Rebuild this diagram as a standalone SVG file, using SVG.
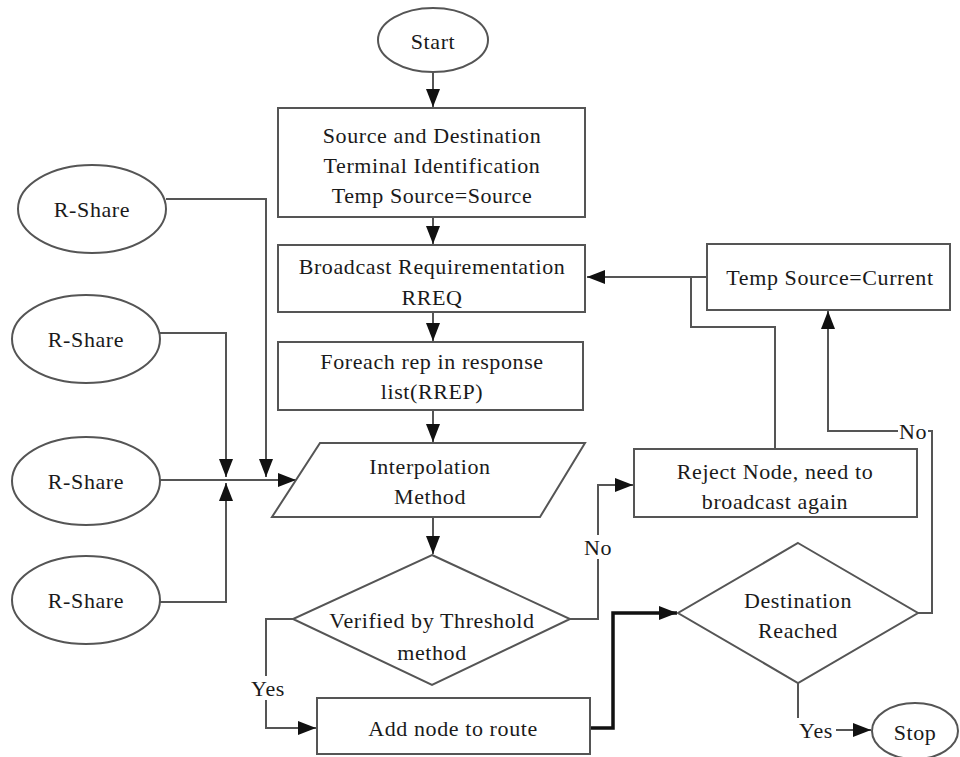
<svg xmlns="http://www.w3.org/2000/svg" width="960" height="757" viewBox="0 0 960 757">
  <defs>
    <marker id="arrow" markerUnits="userSpaceOnUse" markerWidth="18" markerHeight="14" refX="18" refY="7" orient="auto">
      <path d="M0,0 L18,7 L0,14 z" fill="#111"/>
    </marker>
    <style>
      .shape { fill: #fff; stroke: #555; stroke-width: 2; }
      .conn { fill: none; stroke: #555; stroke-width: 2; }
      .bold { fill: none; stroke: #111; stroke-width: 3.5; }
      text { font-family: "Liberation Serif", "Times New Roman", serif; font-size: 22px; fill: #1a1a1a; text-anchor: middle; dominant-baseline: central; letter-spacing: 0.6px; }
      .lblbg { fill: #fff; stroke: none; }
    </style>
  </defs>
  <rect width="960" height="757" fill="#fff"/>

  <!-- connectors -->
  <g id="connectors">
    <path class="conn" d="M433,72 V107" marker-end="url(#arrow)"/>
    <path class="conn" d="M433,217 V244" marker-end="url(#arrow)"/>
    <path class="conn" d="M433,312 V341" marker-end="url(#arrow)"/>
    <path class="conn" d="M433,410 V442" marker-end="url(#arrow)"/>
    <path class="conn" d="M433,517 V554" marker-end="url(#arrow)"/>
    <!-- R-Share inputs -->
    <path class="conn" d="M166,199 H266 V477" marker-end="url(#arrow)"/>
    <path class="conn" d="M160,333 H226 V477" marker-end="url(#arrow)"/>
    <path class="conn" d="M160,480 H296" marker-end="url(#arrow)"/>
    <path class="conn" d="M160,602 H226 V483" marker-end="url(#arrow)"/>
    <!-- Yes branch of threshold check -->
    <path class="conn" d="M293,619 H266 V728 H316" marker-end="url(#arrow)"/>
    <!-- No branch of threshold check -->
    <path class="conn" d="M570,619 H598 V485 H633" marker-end="url(#arrow)"/>
    <!-- route to destination check -->
    <path class="bold" d="M590,728 H613 V613 H677" marker-end="url(#arrow)"/>
    <!-- reject loops back to broadcast -->
    <path class="conn" d="M775,449 V327 H691 V277"/>
    <path class="conn" d="M707,277 H587" marker-end="url(#arrow)"/>
    <!-- not reached: update temp source -->
    <path class="conn" d="M918,613 H932 V431 H828 V311" marker-end="url(#arrow)"/>
    <!-- reached: stop -->
    <path class="conn" d="M798,683 V730 H871" marker-end="url(#arrow)"/>

    <rect class="lblbg" x="249" y="676" width="38" height="24"/>
    <text x="268" y="688">Yes</text>
    <rect class="lblbg" x="584" y="535" width="28" height="24"/>
    <text x="598" y="547">No</text>
    <rect class="lblbg" x="898" y="419" width="30" height="24"/>
    <text x="913" y="431">No</text>
    <rect class="lblbg" x="796" y="718" width="40" height="24"/>
    <text x="816" y="730">Yes</text>
  </g>

  <g id="start">
    <ellipse class="shape" cx="433" cy="40" rx="55" ry="32"/>
    <text x="433" y="41">Start</text>
  </g>

  <g id="identify">
    <rect class="shape" x="278" y="108" width="307" height="109"/>
    <text x="432" y="135">Source and Destination</text>
    <text x="432" y="165">Terminal Identification</text>
    <text x="432" y="195">Temp Source=Source</text>
  </g>

  <g id="broadcast">
    <rect class="shape" x="278" y="245" width="307" height="67"/>
    <text x="432" y="266">Broadcast Requirementation</text>
    <text x="432" y="297">RREQ</text>
  </g>

  <g id="foreach">
    <rect class="shape" x="278" y="342" width="305" height="68"/>
    <text x="432" y="361">Foreach rep in response</text>
    <text x="432" y="391">list(RREP)</text>
  </g>

  <g id="interpolation">
    <polygon class="shape" points="320,443 585,443 540,517 272,517"/>
    <text x="430" y="466">Interpolation</text>
    <text x="430" y="496">Method</text>
  </g>

  <g id="verify">
    <polygon class="shape" points="432,555 570,619 432,685 293,619"/>
    <text x="432" y="620">Verified by Threshold</text>
    <text x="432" y="652">method</text>
  </g>

  <g id="add-node">
    <rect class="shape" x="317" y="698" width="273" height="56"/>
    <text x="453" y="728">Add node to route</text>
  </g>

  <g id="reject">
    <rect class="shape" x="634" y="449" width="283" height="68"/>
    <text x="775" y="471">Reject Node, need to</text>
    <text x="775" y="501">broadcast again</text>
  </g>

  <g id="temp-source">
    <rect class="shape" x="707" y="244" width="243" height="66"/>
    <text x="830" y="277">Temp Source=Current</text>
  </g>

  <g id="destination">
    <polygon class="shape" points="798,543 918,613 798,683 678,613"/>
    <text x="798" y="600">Destination</text>
    <text x="798" y="630">Reached</text>
  </g>

  <g id="stop">
    <ellipse class="shape" cx="915" cy="731" rx="43" ry="28"/>
    <text x="915" y="732">Stop</text>
  </g>

  <g id="rshare-1">
    <ellipse class="shape" cx="92" cy="209" rx="74" ry="44"/>
    <text x="92" y="209">R-Share</text>
  </g>
  <g id="rshare-2">
    <ellipse class="shape" cx="86" cy="339" rx="74" ry="44"/>
    <text x="86" y="339">R-Share</text>
  </g>
  <g id="rshare-3">
    <ellipse class="shape" cx="86" cy="481" rx="74" ry="44"/>
    <text x="86" y="481">R-Share</text>
  </g>
  <g id="rshare-4">
    <ellipse class="shape" cx="86" cy="600" rx="74" ry="44"/>
    <text x="86" y="600">R-Share</text>
  </g>
</svg>
